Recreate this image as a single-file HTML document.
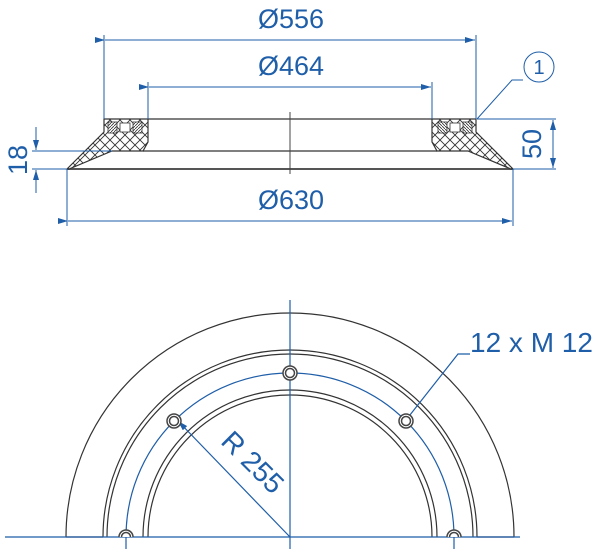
<!DOCTYPE html>
<html><head><meta charset="utf-8"><style>
html,body{margin:0;padding:0;background:#fff;}
svg{display:block;}
text{font-family:"Liberation Sans",sans-serif;fill:#1f5ea8;}
</style></head><body>
<svg width="600" height="549" viewBox="0 0 600 549" xmlns="http://www.w3.org/2000/svg">
<defs>
<pattern id="h" width="10" height="10" patternUnits="userSpaceOnUse">
<rect width="10" height="10" fill="#fff"/>
<path d="M0 0L10 10M10 0L0 10" stroke="#333" stroke-width="0.9"/>
</pattern>
<pattern id="s" width="3" height="3" patternUnits="userSpaceOnUse">
<rect width="3" height="3" fill="#fff"/>
<path d="M0 3L3 0" stroke="#333" stroke-width="0.8"/>
</pattern>
<marker id="a" viewBox="0 0 10 6" refX="10" refY="3" markerWidth="10" markerHeight="6" orient="auto" markerUnits="userSpaceOnUse">
<path d="M0 0L10 3L0 6z" fill="#1f5ea8"/>
</marker>
<g id="prof">
<path d="M104 119L148 119L148 142L143 151L112 151L69 169L67 169L104 132Z" fill="url(#h)" stroke="#333" stroke-width="1.2"/>
<rect x="108" y="122" width="9" height="11" fill="url(#s)" stroke="#333" stroke-width="0.8"/>
<rect x="133" y="122" width="9" height="11" fill="url(#s)" stroke="#333" stroke-width="0.8"/>
<rect x="120" y="123" width="10" height="9" fill="#fff" stroke="#333" stroke-width="0.8"/>
</g>
</defs>
<g stroke="#555" stroke-width="1.5">
<line x1="148" y1="119" x2="432" y2="119"/>
<line x1="143" y1="151" x2="437" y2="151"/>
<line x1="67" y1="169" x2="513" y2="169" stroke-width="2"/>
</g>
<use href="#prof"/>
<use href="#prof" transform="translate(580,0) scale(-1,1)"/>
<line x1="290" y1="112" x2="290" y2="174" stroke="#444" stroke-width="1"/>
<g stroke="#1f5ea8" stroke-width="1" fill="none">
<line x1="104" y1="35" x2="104" y2="119"/>
<line x1="476" y1="35" x2="476" y2="119"/>
<line x1="105" y1="40" x2="475" y2="40" marker-start="url(#a)" marker-end="url(#a)"/>
<line x1="148" y1="82" x2="148" y2="119"/>
<line x1="432" y1="82" x2="432" y2="119"/>
<line x1="149" y1="87" x2="431" y2="87" marker-start="url(#a)" marker-end="url(#a)"/>
<line x1="67" y1="169" x2="67" y2="226"/>
<line x1="513" y1="169" x2="513" y2="226"/>
<line x1="68" y1="221" x2="512" y2="221" marker-start="url(#a)" marker-end="url(#a)"/>
<line x1="32" y1="151" x2="112" y2="151"/>
<line x1="32" y1="169" x2="67" y2="169"/>
<line x1="36" y1="127" x2="36" y2="150" marker-end="url(#a)"/>
<line x1="36" y1="193" x2="36" y2="170" marker-end="url(#a)"/>
<line x1="477" y1="119" x2="556" y2="119"/>
<line x1="513" y1="169" x2="556" y2="169"/>
<line x1="553" y1="144" x2="553" y2="120" marker-end="url(#a)"/>
<line x1="553" y1="144" x2="553" y2="168" marker-end="url(#a)"/>
<polyline points="477,119 512,80 523,80"/>
<circle cx="539" cy="67" r="15"/>
</g>
<text x="539" y="74" font-size="20" text-anchor="middle">1</text>
<text x="291" y="28" font-size="27" text-anchor="middle">Ø556</text>
<text x="291" y="75" font-size="27" text-anchor="middle">Ø464</text>
<text x="291" y="209" font-size="27" text-anchor="middle">Ø630</text>
<text transform="translate(27,160) rotate(-90)" font-size="27" text-anchor="middle">18</text>
<text transform="translate(541,144) rotate(-90)" font-size="27" text-anchor="middle">50</text>
<g fill="none" stroke="#333" stroke-width="1.2">
<path d="M66 537A224 224 0 0 1 514 537"/>
<path d="M103 537A187 187 0 0 1 477 537"/>
<path d="M107 537A183 183 0 0 1 473 537"/>
<path d="M143 537A147 147 0 0 1 437 537"/>
<path d="M148 537A142 142 0 0 1 432 537"/>
<line x1="66" y1="537" x2="103" y2="537"/>
<line x1="477" y1="537" x2="514" y2="537"/>
</g>
<g fill="none" stroke="#1f5ea8" stroke-width="1.2">
<path d="M126 537A164 164 0 0 1 454 537"/>
<line x1="5" y1="537" x2="520" y2="537"/>
<line x1="290" y1="300" x2="290" y2="549"/>
<line x1="126" y1="530" x2="126" y2="549"/>
<line x1="454" y1="530" x2="454" y2="549"/>
<line x1="290" y1="537" x2="178" y2="421" marker-end="url(#a)"/>
<polyline points="406,420 458,354 470,354"/>
</g>
<g fill="#fff" stroke="#444" stroke-width="1.5">
<circle cx="290" cy="373" r="7"/><circle cx="290" cy="373" r="4.5"/>
<circle cx="174" cy="421" r="7"/><circle cx="174" cy="421" r="4.5"/>
<circle cx="406" cy="421" r="7"/><circle cx="406" cy="421" r="4.5"/>
<path d="M119 537A7 7 0 0 1 133 537M121.5 537A4.5 4.5 0 0 1 130.5 537"/>
<path d="M447 537A7 7 0 0 1 461 537M449.5 537A4.5 4.5 0 0 1 458.5 537"/>
</g>
<text x="470" y="352" font-size="28">12 x M 12</text>
<text transform="translate(246,469) rotate(45)" font-size="28" text-anchor="middle">R 255</text>
</svg>
</body></html>
